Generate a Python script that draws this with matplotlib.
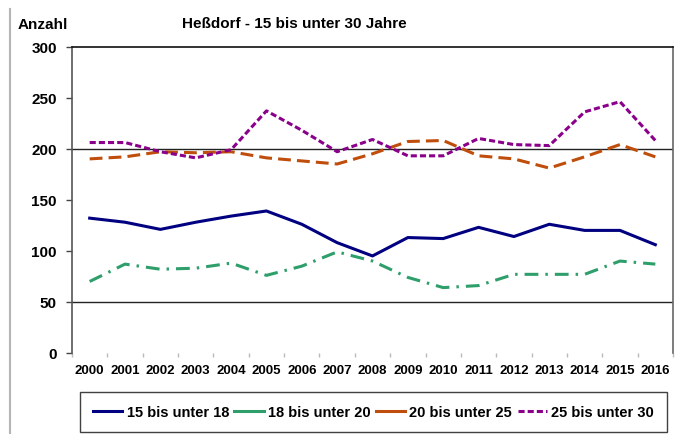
import matplotlib
matplotlib.use("Agg")
import matplotlib.pyplot as plt
from matplotlib.lines import Line2D

years = [str(y) for y in range(2000, 2017)]
s15_18 = [132, 128, 121, 128, 134, 139, 126, 108, 95, 113, 112, 123, 114, 126, 120, 120, 106]
s18_20 = [70, 87, 82, 83, 88, 76, 85, 99, 90, 74, 64, 66, 77, 77, 77, 90, 87]
s20_25 = [190, 192, 197, 196, 197, 191, 188, 185, 195, 207, 208, 193, 190, 181, 192, 204, 192]
s25_30 = [206, 206, 197, 191, 199, 237, 218, 197, 209, 193, 193, 210, 204, 203, 236, 246, 208]
labels = ["15 bis unter 18", "18 bis unter 20", "20 bis unter 25", "25 bis unter 30"]
yticks = [0, 50, 100, 150, 200, 250, 300]
gridvals = [50, 200]

plt.rcParams['font.family'] = ['Liberation Sans', 'DejaVu Sans']
plt.rcParams['font.weight'] = 'bold'

fig = plt.figure(figsize=(6.76, 4.35), dpi=100)
ax = fig.add_axes([72/676, 1-354/435, (673-72)/676, (354-47.5)/435])

x = list(range(len(years)))
colors = ['#000080', '#2E9E6B', '#BF4E0C', '#8B008B']
lw = 2.2
ax.plot(x, s15_18, color=colors[0], lw=lw, solid_joinstyle='round')
l2, = ax.plot(x, s18_20, color=colors[1], lw=lw)
l2.set_dashes([4.5, 2.3, 0.8, 2.3])
l3, = ax.plot(x, s20_25, color=colors[2], lw=lw)
l3.set_dashes([4.2, 2.0])
l4, = ax.plot(x, s25_30, color=colors[3], lw=lw)
l4.set_dashes([2.0, 1.0])

for g in gridvals:
    ax.axhline(g, color='#222222', lw=1.0, zorder=0.5)

ax.set_xlim(-0.5, len(years) - 0.5)
ax.set_ylim(0, 300)
ax.set_yticks(yticks)
ax.set_yticklabels([str(v) for v in yticks], fontsize=11, fontweight='bold')
ax.tick_params(axis='y', direction='out', length=4, width=1, color='#444444', pad=7)
ax.set_xticks(x)
ax.set_xticklabels(years, fontsize=9.5, fontweight='bold')
ax.tick_params(axis='x', which='major', length=0, pad=8)
ax.set_xticks([i + 0.5 for i in range(-1, len(years))], minor=True)
ax.tick_params(axis='x', which='minor', direction='out', length=3, width=1, color='#BBBBBB')

ax.spines['bottom'].set_visible(False)
ax.spines['top'].set_color('#111111')
ax.spines['top'].set_linewidth(1.2)
ax.spines['right'].set_color('#666666')
ax.spines['right'].set_linewidth(1.2)
ax.spines['left'].set_color('#555555')
ax.spines['left'].set_linewidth(1.2)

fig.text(18/676, 1-25/435, "Anzahl", fontsize=11, fontweight='bold', va='center', ha='left')
fig.text(182/676, 1-24/435, "Heßdorf - 15 bis unter 30 Jahre", fontsize=11, fontweight='bold',
         va='center', ha='left')

fig.add_artist(Line2D([9.5/676, 9.5/676], [0, 1-10/435], transform=fig.transFigure,
                      color='#B5B5B5', lw=1.5))

handles = [
    Line2D([], [], color=colors[0], lw=lw),
    Line2D([], [], color=colors[1], lw=lw),
    Line2D([], [], color=colors[2], lw=lw),
    Line2D([], [], color=colors[3], lw=lw, dashes=[2.0, 1.0]),
]
leg = fig.legend(handles, labels, loc='lower left', ncol=4, mode='expand',
                 bbox_to_anchor=(80/676, 2/435, (667-80)/676, (433-386)/435),
                 bbox_transform=fig.transFigure, frameon=True, fancybox=False,
                 edgecolor='#111111', fontsize=10.5, handlelength=2.0,
                 handletextpad=0.3, borderaxespad=0, borderpad=0.9,
                 prop={'weight': 'bold', 'size': 10.5})
leg.get_frame().set_linewidth(1.0)

fig.savefig("out.png", dpi=100)
